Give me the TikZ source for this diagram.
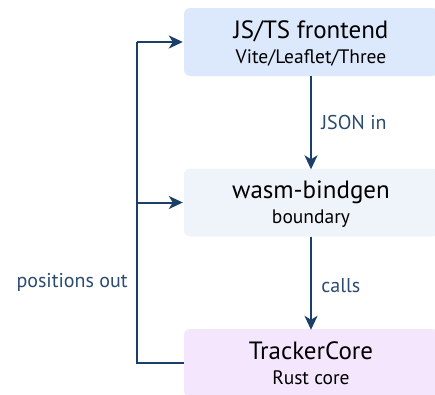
\documentclass[tikz,border=0pt]{standalone}
\usepackage{fontspec}
\setmainfont{PT Sans}
\usetikzlibrary{arrows.meta}
\definecolor{edgec}{HTML}{1B3F66}
\definecolor{lblc}{HTML}{2B4B70}
\definecolor{fillA}{HTML}{DCE9FC}
\definecolor{fillB}{HTML}{EFF4FA}
\definecolor{fillC}{HTML}{F3E6FD}
\newcommand{\bigline}[1]{{\fontsize{25}{25}\selectfont #1}}
\tikzset{
  box/.style={rounded corners=6pt, minimum width=254pt, minimum height=68pt, inner sep=0pt, align=center, text=black, font=\fontsize{19.5}{25}\selectfont, text height=46pt, text depth=4pt},
  arr/.style={draw=edgec, line width=2pt, -{Stealth[length=14pt,width=13pt,inset=4pt]}},
  ln/.style={draw=edgec, line width=2pt},
  lbl/.style={text=lblc, font=\fontsize{20}{24}\selectfont}
}
\begin{document}
\begin{tikzpicture}[x=1pt,y=-1pt]
\useasboundingbox (0,0) rectangle (435,394);
\begin{scope}
\clip (0,0) rectangle (435,394);
\node[box, fill=fillA] (js) at (311,42) {\bigline{JS/TS frontend}\\Vite/Leaflet/Three};
\node[box, fill=fillB] (wb) at (311,202.5) {\bigline{wasm-bindgen}\\boundary};
\node[box, fill=fillC] (tc) at (311,363) {\bigline{TrackerCore}\\Rust core};
\end{scope}
\draw[arr] (js.south) -- node[lbl, right=6pt, pos=0.5] (l1) {JSON in} ([yshift=-1pt]wb.north);
\draw[arr] (wb.south) -- node[lbl, right=6pt, pos=0.52] (l2) {calls} ([yshift=-1pt]tc.north);
\coordinate (c1) at (137,363);
\coordinate (c2) at (137,42);
\coordinate (c3) at (137,202.5);
\draw[ln] (tc.west) -- (c1) -- node[lbl, left=5pt, pos=0.25] (l3) {positions out} (c2);
\draw[arr] (c2) -- ([xshift=-1pt]js.west);
\draw[arr] (c3) -- ([xshift=-1pt]wb.west);
\end{tikzpicture}
\end{document}
